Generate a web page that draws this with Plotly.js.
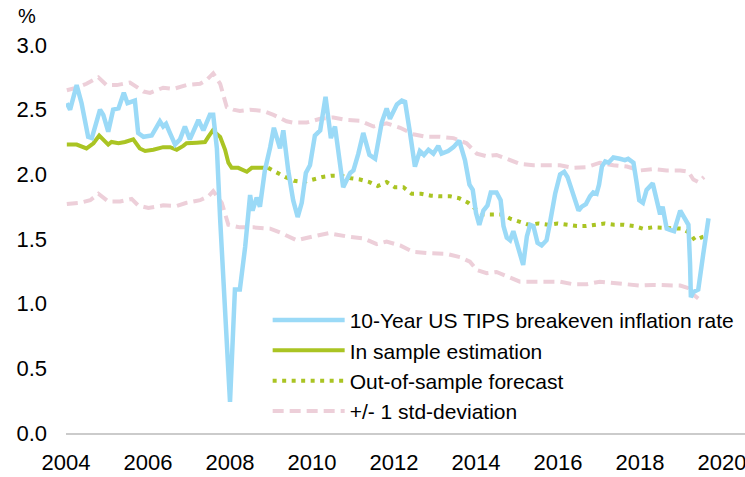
<!DOCTYPE html>
<html>
<head>
<meta charset="utf-8">
<script src="https://cdn.plot.ly/plotly-3.0.1.min.js"></script>
<style>
  html, body { margin: 0; padding: 0; background: #fff; }
  #grafico { width: 745px; height: 477px; }
</style>
</head>
<body>
<div id="grafico"></div>
<script>
// Valores (años decimales, %)
const tipsAnios = [2004.02, 2004.10, 2004.26, 2004.38, 2004.54, 2004.63, 2004.83, 2004.91, 2005.03, 2005.15,
  2005.28, 2005.41, 2005.50, 2005.68, 2005.76, 2005.89, 2006.09, 2006.29, 2006.37, 2006.44,
  2006.52, 2006.66, 2006.78, 2006.90, 2007.02, 2007.23, 2007.35, 2007.51, 2007.59, 2007.68,
  2007.76, 2007.84, 2007.93, 2008.00, 2008.12, 2008.24, 2008.37, 2008.49, 2008.55, 2008.65,
  2008.73, 2008.85, 2008.98, 2009.07, 2009.22, 2009.30, 2009.42, 2009.54, 2009.65, 2009.75,
  2009.85, 2009.95, 2010.07, 2010.20, 2010.33, 2010.46, 2010.56, 2010.76, 2010.93, 2011.01,
  2011.13, 2011.25, 2011.40, 2011.54, 2011.70, 2011.82, 2011.90, 2012.07, 2012.19, 2012.27,
  2012.39, 2012.51, 2012.63, 2012.73, 2012.84, 2012.96, 2013.08, 2013.16, 2013.32, 2013.45,
  2013.59, 2013.73, 2013.84, 2013.92, 2014.00, 2014.08, 2014.18, 2014.28, 2014.36, 2014.50,
  2014.60, 2014.67, 2014.75, 2014.83, 2014.91, 2015.03, 2015.15, 2015.24, 2015.32, 2015.40,
  2015.50, 2015.60, 2015.72, 2015.80, 2015.93, 2016.05, 2016.15, 2016.23, 2016.37, 2016.50,
  2016.58, 2016.68, 2016.78, 2016.86, 2016.94, 2017.00, 2017.07, 2017.15, 2017.23, 2017.35,
  2017.51, 2017.63, 2017.71, 2017.84, 2017.92, 2017.98, 2018.07, 2018.16, 2018.31, 2018.41,
  2018.49, 2018.55, 2018.65, 2018.73, 2018.83, 2018.98, 2019.10, 2019.18, 2019.22, 2019.24,
  2019.30, 2019.42, 2019.54, 2019.67];
const tipsValores = [2.55, 2.50, 2.69, 2.55, 2.29, 2.28, 2.50, 2.46, 2.33, 2.50,
  2.51, 2.63, 2.55, 2.57, 2.32, 2.29, 2.30, 2.41, 2.37, 2.39,
  2.33, 2.23, 2.27, 2.37, 2.27, 2.42, 2.34, 2.46, 2.46, 2.20,
  1.65, 1.15, 0.70, 0.24, 1.11, 1.11, 1.44, 1.84, 1.72, 1.82,
  1.75, 2.03, 2.21, 2.36, 2.20, 2.34, 2.03, 1.80, 1.67, 1.78,
  2.01, 2.07, 2.30, 2.34, 2.60, 2.28, 2.37, 1.90, 2.01, 2.03,
  2.16, 2.32, 2.15, 2.12, 2.40, 2.51, 2.43, 2.54, 2.57, 2.56,
  2.32, 2.06, 2.18, 2.15, 2.19, 2.16, 2.22, 2.16, 2.18, 2.21,
  2.26, 2.11, 1.92, 1.88, 1.70, 1.61, 1.72, 1.76, 1.86, 1.86,
  1.80, 1.60, 1.51, 1.49, 1.56, 1.44, 1.30, 1.52, 1.61, 1.60,
  1.47, 1.45, 1.49, 1.62, 1.85, 2.00, 2.02, 1.98, 1.85, 1.72,
  1.75, 1.77, 1.83, 1.86, 1.85, 1.92, 2.06, 2.10, 2.09, 2.13,
  2.12, 2.11, 2.12, 2.09, 1.93, 1.80, 1.78, 1.88, 1.93, 1.80,
  1.69, 1.75, 1.58, 1.57, 1.56, 1.72, 1.65, 1.61, 1.31, 1.05,
  1.09, 1.11, 1.38, 1.66];

const estimAnios = [2004.02, 2004.26, 2004.50, 2004.67, 2004.81, 2004.91, 2005.03, 2005.11, 2005.28, 2005.44,
  2005.64, 2005.80, 2005.93, 2006.13, 2006.37, 2006.54, 2006.70, 2006.86, 2006.94, 2007.19,
  2007.39, 2007.47, 2007.58, 2007.76, 2007.88, 2007.96, 2008.04, 2008.20, 2008.41, 2008.53,
  2008.73, 2008.93];
const estimValores = [2.23, 2.23, 2.20, 2.24, 2.30, 2.27, 2.23, 2.25, 2.24, 2.25,
  2.27, 2.20, 2.18, 2.19, 2.21, 2.21, 2.19, 2.22, 2.24, 2.245,
  2.25, 2.29, 2.34, 2.29, 2.19, 2.09, 2.05, 2.05, 2.02, 2.05,
  2.05, 2.05];

const prevAnios = [2008.93, 2009.10, 2009.34, 2009.56, 2009.79, 2010.03, 2010.26, 2010.48, 2010.72, 2010.95,
  2011.17, 2011.40, 2011.60, 2011.82, 2012.02, 2012.23, 2012.43, 2012.66, 2012.90, 2013.12,
  2013.37, 2013.59, 2013.81, 2014.00, 2014.16, 2014.40, 2014.63, 2014.85, 2015.06, 2015.28,
  2015.52, 2015.76, 2015.99, 2016.23, 2016.46, 2016.68, 2016.90, 2017.13, 2017.37, 2017.61,
  2017.85, 2018.07, 2018.30, 2018.53, 2018.77, 2019.02, 2019.20, 2019.34, 2019.56];
const prevValores = [2.05, 2.02, 1.98, 1.95, 1.94, 1.96, 1.98, 1.99, 1.99, 1.97,
  1.96, 1.94, 1.91, 1.94, 1.90, 1.90, 1.85, 1.85, 1.835, 1.83,
  1.83, 1.815, 1.78, 1.73, 1.69, 1.69, 1.69, 1.655, 1.63, 1.61,
  1.62, 1.61, 1.62, 1.61, 1.60, 1.60, 1.61, 1.62, 1.61, 1.61,
  1.60, 1.58, 1.59, 1.585, 1.58, 1.58, 1.55, 1.49, 1.52];

const supAnios = [2004.02, 2004.26, 2004.50, 2004.79, 2004.99, 2005.24, 2005.56, 2005.72, 2005.89, 2006.05,
  2006.37, 2006.62, 2006.94, 2007.27, 2007.43, 2007.59, 2007.76, 2007.92, 2008.08, 2008.24,
  2008.49, 2008.81, 2009.06, 2009.38, 2009.54, 2009.87, 2010.20, 2010.52, 2010.85, 2011.17,
  2011.50, 2011.82, 2012.15, 2012.47, 2012.80, 2013.12, 2013.45, 2013.77, 2014.02, 2014.26,
  2014.50, 2014.75, 2015.07, 2015.40, 2015.72, 2016.05, 2016.37, 2016.70, 2017.02, 2017.35,
  2017.68, 2018.00, 2018.32, 2018.65, 2018.98, 2019.18, 2019.30, 2019.42, 2019.56];
const supValores = [2.65, 2.67, 2.70, 2.75, 2.69, 2.69, 2.71, 2.68, 2.64, 2.63,
  2.67, 2.66, 2.69, 2.70, 2.73, 2.78, 2.70, 2.52, 2.50, 2.49,
  2.50, 2.49, 2.46, 2.41, 2.40, 2.40, 2.43, 2.44, 2.42, 2.415,
  2.37, 2.395, 2.36, 2.31, 2.29, 2.29, 2.28, 2.24, 2.16, 2.14,
  2.15, 2.12, 2.08, 2.07, 2.07, 2.07, 2.05, 2.055, 2.09, 2.07,
  2.06, 2.03, 2.04, 2.03, 2.03, 2.02, 1.96, 1.94, 1.98];

const infAnios = [2004.02, 2004.34, 2004.59, 2004.79, 2005.03, 2005.32, 2005.60, 2005.76, 2006.01, 2006.37,
  2006.70, 2006.94, 2007.27, 2007.47, 2007.59, 2007.80, 2007.96, 2008.24, 2008.57, 2008.98,
  2009.22, 2009.63, 2010.03, 2010.40, 2010.85, 2011.25, 2011.58, 2011.82, 2012.15, 2012.47,
  2012.88, 2013.29, 2013.61, 2013.85, 2014.02, 2014.26, 2014.50, 2014.75, 2015.07, 2015.40,
  2015.72, 2016.05, 2016.37, 2016.70, 2017.02, 2017.35, 2017.68, 2018.00, 2018.32, 2018.65,
  2018.98, 2019.18, 2019.30, 2019.42];
const infValores = [1.77, 1.78, 1.80, 1.85, 1.79, 1.79, 1.81, 1.76, 1.74, 1.76,
  1.755, 1.78, 1.80, 1.83, 1.87, 1.78, 1.61, 1.59, 1.59, 1.58,
  1.55, 1.49, 1.52, 1.545, 1.52, 1.505, 1.46, 1.48, 1.45, 1.40,
  1.39, 1.385, 1.36, 1.325, 1.26, 1.235, 1.245, 1.21, 1.17, 1.17,
  1.17, 1.17, 1.15, 1.15, 1.17, 1.16, 1.15, 1.14, 1.145, 1.14,
  1.14, 1.12, 1.07, 1.04];

const nombres = ['10-Year US TIPS breakeven inflation rate', 'In sample estimation',
  'Out-of-sample forecast', '+/- 1 std-deviation'];

const azul = '#9BDAF7';
const verde = '#AAC423';
const rosa = '#EDCFD9';

function graficar() {
    const fuente = 'Liberation Sans, Arial, sans-serif';

    const bandaSup = {
        x: supAnios, y: supValores, type: 'scatter', mode: 'lines',
        name: nombres[3], legendrank: 4,
        line: {color: rosa, width: 4, dash: '11px,6px'}
    };
    const bandaInf = {
        x: infAnios, y: infValores, type: 'scatter', mode: 'lines',
        name: nombres[3], showlegend: false,
        line: {color: rosa, width: 4, dash: '11px,6px'}
    };
    const prevision = {
        x: prevAnios, y: prevValores, type: 'scatter', mode: 'lines',
        name: nombres[2], legendrank: 3,
        line: {color: verde, width: 4, dash: '4px,5.5px'}
    };
    const estimacion = {
        x: estimAnios, y: estimValores, type: 'scatter', mode: 'lines',
        name: nombres[1], legendrank: 2,
        line: {color: verde, width: 4}
    };
    const tips = {
        x: tipsAnios, y: tipsValores, type: 'scatter', mode: 'lines',
        name: nombres[0], legendrank: 1,
        line: {color: azul, width: 4.5}
    };

    const layout = {
        width: 745,
        height: 477,
        margin: {l: 66, r: 0, t: 45, b: 44},
        paper_bgcolor: '#fff',
        plot_bgcolor: '#fff',
        font: {family: fuente, size: 21, color: '#000'},
        showlegend: true,
        legend: {
            x: 0.297, y: 0.343, xanchor: 'left', yanchor: 'top',
            bgcolor: 'rgba(0,0,0,0)',
            font: {family: fuente, size: 21, color: '#000'},
            itemwidth: 72,
            tracegroupgap: 0
        },
        xaxis: {
            range: [2004, 2020.56],
            tick0: 2004, dtick: 2,
            showgrid: false, zeroline: false,
            showline: true, linecolor: '#CBCBCB', linewidth: 2,
            ticks: '', ticklabelstandoff: 9,
            ticklabeloverflow: 'allow',
            tickfont: {family: fuente, size: 22, color: '#000'}
        },
        yaxis: {
            range: [0, 3.0],
            tick0: 0, dtick: 0.5, tickformat: '.1f',
            showgrid: false, zeroline: false, showline: false,
            ticks: '', ticklabelstandoff: 18,
            tickfont: {family: fuente, size: 22, color: '#000'}
        },
        annotations: [{
            text: '%', xref: 'paper', yref: 'paper',
            x: -0.0575, y: 1.075, xanchor: 'center', yanchor: 'middle',
            showarrow: false, font: {family: fuente, size: 20, color: '#000'}
        }]
    };

    Plotly.newPlot('grafico', [bandaSup, bandaInf, prevision, estimacion, tips], layout, {displayModeBar: false, staticPlot: true});
}

window.onload = graficar;
</script>
</body>
</html>
